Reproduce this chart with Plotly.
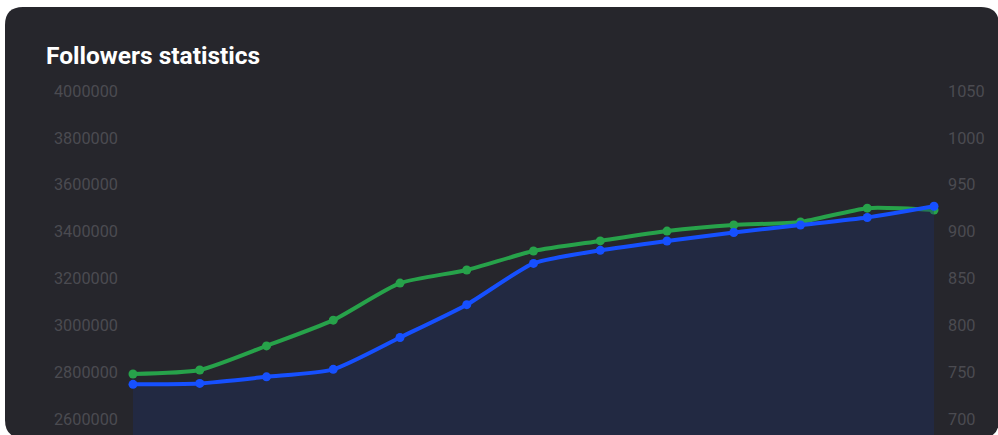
import plotly.graph_objects as go

# ---- data ----
periods = ["P1", "P2", "P3", "P4", "P5", "P6", "P7", "P8", "P9", "P10", "P11", "P12", "P13"]
followers = [2792000, 2809000, 2912000, 3022000, 3180000, 3236000, 3317000,
             3360000, 3402000, 3428000, 3441000, 3500000, 3492000]
secondary = [737, 738, 745, 753, 787, 822, 866, 880, 890, 899, 907, 915, 927]
left_ticks = [2600000, 2800000, 3000000, 3200000, 3400000, 3600000, 3800000, 4000000]
right_ticks = [700, 750, 800, 850, 900, 950, 1000, 1050]

W, H = 998, 435
L, R, T, B = 133, 64, 80, 0
PW, PH = W - L - R, H - T - B

def px(X):
    return (X - L) / PW

def py(Y):
    return (H - B - Y) / PH

# rounded card path
x0, y0, x1, y1, r = 5, 7, 999, 438, 18
pts = [
    f"M {px(x0 + r)} {py(y0)}",
    f"L {px(x1 - r)} {py(y0)}",
    f"Q {px(x1)} {py(y0)} {px(x1)} {py(y0 + r)}",
    f"L {px(x1)} {py(y1 - r)}",
    f"Q {px(x1)} {py(y1)} {px(x1 - r)} {py(y1)}",
    f"L {px(x0 + r)} {py(y1)}",
    f"Q {px(x0)} {py(y1)} {px(x0)} {py(y1 - r)}",
    f"L {px(x0)} {py(y0 + r)}",
    f"Q {px(x0)} {py(y0)} {px(x0 + r)} {py(y0)}",
    "Z",
]
card_path = " ".join(pts)

green = "#27a24a"
blue = "#1650ff"

fig = go.Figure()
fig.add_trace(go.Scatter(
    x=periods, y=followers, yaxis="y", mode="lines+markers",
    line=dict(color=green, width=4, shape="spline", smoothing=0.6),
    marker=dict(color=green, size=9),
    cliponaxis=False, name="followers",
))
fig.add_trace(go.Scatter(
    x=periods, y=secondary, yaxis="y2", mode="lines+markers",
    line=dict(color=blue, width=4, shape="spline", smoothing=0.6),
    marker=dict(color=blue, size=9),
    fill="tozeroy", fillcolor="rgba(28,50,110,0.35)",
    cliponaxis=False, name="secondary",
))

tick_font = dict(family="Roboto, Arial, sans-serif", size=16.3, color="#4b4b51")

fig.update_layout(
    width=W, height=H,
    margin=dict(l=L, r=R, t=T, b=B, pad=0),
    paper_bgcolor="#ffffff",
    plot_bgcolor="rgba(0,0,0,0)",
    showlegend=False,
    xaxis=dict(visible=False, range=[0, 12], type="category"),
    yaxis=dict(
        range=[2531700, 4046950], tickmode="array", tickvals=left_ticks,
        ticktext=[str(v) for v in left_ticks], showgrid=False, zeroline=False,
        showline=False, tickfont=tick_font, ticklabelstandoff=14,
    ),
    yaxis2=dict(
        range=[682.93, 1061.74], overlaying="y", side="right", tickmode="array",
        tickvals=right_ticks, ticktext=[str(v) for v in right_ticks],
        showgrid=False, zeroline=False, showline=False, tickfont=tick_font,
        ticklabelstandoff=13,
    ),
    shapes=[dict(
        type="path", path=card_path, xref="paper", yref="paper",
        fillcolor="#26262c", line=dict(width=0), layer="below",
    )],
    annotations=[dict(
        text="<b>Followers statistics</b>", xref="paper", yref="paper",
        x=px(44), y=py(55), xanchor="left", yanchor="middle", showarrow=False,
        font=dict(family="Roboto, Arial, sans-serif", size=24.5, color="#ffffff"),
    )],
)

fig.write_html(
    "out.html",
    config={"displayModeBar": False},
    post_script="document.body.style.margin='0';document.body.style.overflow='hidden';",
)
